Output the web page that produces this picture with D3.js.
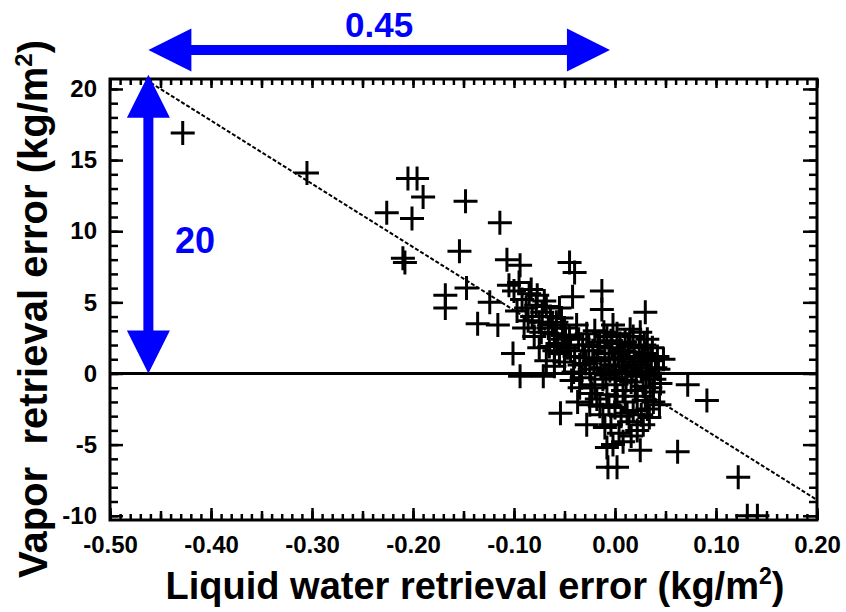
<!DOCTYPE html>
<html>
<head>
<meta charset="utf-8">
<script src="https://cdn.jsdelivr.net/npm/d3@7"></script>
<style>
  body { margin: 0; background: #fff; }
  svg { display: block; font-family: "Liberation Sans", Arial, sans-serif; }
</style>
</head>
<body>
<svg id="plot"></svg>
<script>
// axis ticks
const xTicks = [-0.5, -0.4, -0.3, -0.2, -0.1, 0, 0.1, 0.2];
const xTickLabels = ['-0.50', '-0.40', '-0.30', '-0.20', '-0.10', '0.00', '0.10', '0.20'];
const yTicks = [-10, -5, 0, 5, 10, 15, 20];
const yTickLabels = ['-10', '-5', '0', '5', '10', '15', '20'];

// retrieval errors, liquid water (x) and vapor (y), kg/m2
const liquidErr = [
  -0.428, -0.305, -0.205, -0.196, -0.190, -0.226, -0.201, -0.210, -0.208, -0.148,
  -0.114, -0.154, -0.168, -0.168, -0.147, -0.136, -0.124, -0.116, -0.107, -0.094,
  -0.045, -0.040, -0.042, -0.013, -0.013, 0.030, -0.101, -0.094, -0.071, -0.054,
  -0.037, -0.028, -0.023, -0.008, -0.007, 0.002, 0.025, 0.072, 0.091, 0.062,
  0.122, 0.131, 0.141,
  -0.105, -0.100, -0.095, -0.092, -0.088, -0.085, -0.082, -0.078, -0.075, -0.072,
  -0.070, -0.066, -0.064, -0.060, -0.058, -0.055, -0.052, -0.050, -0.047, -0.080,
  -0.090, -0.065,
  -0.083, -0.077, -0.068, -0.062, -0.057, -0.053, -0.049, -0.073, -0.086, -0.097,
  -0.045, -0.040, -0.038, -0.035, -0.032, -0.030, -0.028, -0.025, -0.022, -0.020,
  -0.018, -0.015, -0.012, -0.010, -0.008, -0.005, -0.003, 0.000, 0.000, 0.002,
  0.004, 0.006, 0.008, 0.010, 0.012, 0.014, 0.016, 0.018, 0.020, 0.022,
  0.024, 0.026, 0.028, 0.030, 0.032, 0.034, 0.036, 0.038, 0.040, -0.050,
  -0.055, -0.060, -0.043, -0.035, -0.002, 0.015, 0.025, -0.075, -0.068, -0.060,
  -0.044, -0.041, -0.036, -0.033, -0.029, -0.026, -0.024, -0.021, -0.017, -0.014,
  -0.011, -0.009, -0.006, -0.004, -0.001, 0.001, 0.003, 0.005, 0.007, 0.009,
  0.011, 0.013, 0.017, 0.019, 0.021, 0.023, 0.027, 0.029, 0.031, 0.033,
  0.035, 0.037, 0.039, 0.042, 0.043,
  -0.025, -0.018, -0.012, -0.008, -0.004, 0.000, 0.004, 0.006, 0.010, 0.014,
  0.018, 0.022, 0.026, 0.030, 0.034, -0.002, 0.008, 0.016, 0.045, 0.048,
  0.044, -0.020, -0.015, -0.006, 0.002, 0.012, 0.020, 0.028, 0.032, 0.038,
  -0.010
];
const vaporErr = [
  16.9, 14.1, 13.7, 13.7, 12.4, 11.3, 10.9, 8.1, 7.8, 12.1,
  10.6, 8.6, 5.5, 4.6, 6.0, 3.5, 5.0, 3.4, 8.0, 7.6,
  7.8, 7.1, 5.4, 5.8, 4.5, 4.3, 1.4, -0.2, -0.2, -2.8,
  -2.0, -3.6, -1.4, -5.2, -6.6, -6.6, -5.4, -0.8, -1.9, -5.5,
  -7.3, -10.0, -10.0,
  6.2, 5.8, 6.4, 5.2, 4.6, 5.6, 4.0, 4.8, 3.6, 4.3,
  5.1, 3.2, 4.0, 2.8, 3.6, 4.6, 2.4, 3.2, 1.8, 2.6,
  3.2, 1.9,
  5.9, 5.5, 4.7, 3.4, 2.1, 3.9, 2.7, 2.9, 3.7, 4.4,
  2.6, 1.2, 3.4, 0.6, 2.0, 1.1, 2.8, 0.3, 1.6, 3.0,
  0.9, 2.2, -0.4, 1.4, 2.6, 0.2, 1.8, -0.8, 1.0, 2.8,
  0.5, 1.6, -1.2, 2.2, 0.0, 1.2, -0.6, 2.6, 0.8, -1.6,
  1.8, 0.2, -0.9, 1.4, 2.4, -0.2, 0.9, -1.3, 0.4, 0.8,
  1.4, 0.5, -0.5, -1.0, 3.4, 3.1, 2.9, 1.8, 0.9, 1.6,
  1.6, 0.1, 2.4, -0.3, 0.7, 2.0, -0.8, 0.9, 1.9, 0.4,
  2.9, -0.1, 1.1, 2.3, 0.6, -0.3, 1.4, 2.1, 0.2, 1.0,
  -0.5, 1.9, 0.4, 1.5, -0.2, 0.6, 1.1, 2.0, 0.0, 1.0,
  -1.0, 1.8, -0.4, 1.2, 0.3,
  -2.2, -1.8, -2.9, -1.5, -3.6, -2.4, -4.2, -3.0, -2.0, -3.4,
  -2.6, -4.0, -2.9, -1.9, -3.1, -5.0, -4.8, -4.4, -0.7, 1.0,
  -2.2, -1.0, -2.3, -2.2, -1.6, -2.8, -1.2, -3.6, -2.5, -2.0,
  -3.8
];

// annotation: 20 kg/m2 vapor over 0.45 kg/m2 liquid
const spanLiquid = [-0.462, -0.005];
const spanVapor = [0, 21];
const slope = -20 / 0.45;

const width = 846;
const height = 612;
const plot = { left: 110, right: 817, top: 79, bottom: 520 };

const svg = d3.select('#plot')
  .attr('width', width)
  .attr('height', height);

const xScale = d3.scaleLinear().domain([-0.5, 0.2]).range([plot.left, plot.right]);
const yScale = d3.scaleLinear().domain([-10.3, 20.7]).range([plot.bottom, plot.top]);

svg.append('clipPath')
  .attr('id', 'clip')
  .append('rect')
  .attr('x', plot.left)
  .attr('y', plot.top)
  .attr('width', plot.right - plot.left)
  .attr('height', plot.bottom - plot.top);

const xMinor = d3.range(-50, 21).map(i => i / 100);
const xMid = d3.range(-10, 5).map(i => i / 20);
const yMinor = d3.range(-10, 21);

const styleTicks = g => {
  g.select('.domain').remove();
  g.selectAll('.tick line').attr('stroke', '#000').attr('stroke-width', 2.5);
};
const styleLabels = g => g.selectAll('text')
  .attr('fill', '#000')
  .style('font-size', '24px')
  .style('font-weight', 'bold');

// bottom axis
svg.append('g')
  .attr('transform', `translate(0, ${plot.bottom})`)
  .call(d3.axisBottom(xScale).tickValues(xMinor).tickSize(-6).tickFormat(''))
  .call(styleTicks);
svg.append('g')
  .attr('transform', `translate(0, ${plot.bottom})`)
  .call(d3.axisBottom(xScale).tickValues(xMid).tickSize(-9).tickFormat(''))
  .call(styleTicks);
svg.append('g')
  .attr('id', 'x-axis')
  .attr('transform', `translate(0, ${plot.bottom})`)
  .call(d3.axisBottom(xScale).tickValues(xTicks).tickSizeInner(-12).tickSizeOuter(0)
    .tickPadding(16).tickFormat((d, i) => xTickLabels[i]))
  .call(styleTicks)
  .call(styleLabels);

// top axis
svg.append('g')
  .attr('transform', `translate(0, ${plot.top})`)
  .call(d3.axisTop(xScale).tickValues(xMinor).tickSize(-6).tickFormat(''))
  .call(styleTicks);
svg.append('g')
  .attr('transform', `translate(0, ${plot.top})`)
  .call(d3.axisTop(xScale).tickValues(xMid).tickSize(-9).tickFormat(''))
  .call(styleTicks);

// left axis
svg.append('g')
  .attr('transform', `translate(${plot.left}, 0)`)
  .call(d3.axisLeft(yScale).tickValues(yMinor).tickSize(-8).tickFormat(''))
  .call(styleTicks);
svg.append('g')
  .attr('id', 'y-axis')
  .attr('transform', `translate(${plot.left}, 0)`)
  .call(d3.axisLeft(yScale).tickValues(yTicks).tickSizeInner(-13).tickSizeOuter(0)
    .tickPadding(13).tickFormat((d, i) => yTickLabels[i]))
  .call(styleTicks)
  .call(styleLabels);

// right axis
svg.append('g')
  .attr('transform', `translate(${plot.right}, 0)`)
  .call(d3.axisRight(yScale).tickValues(yMinor).tickSize(-8).tickFormat(''))
  .call(styleTicks);
svg.append('g')
  .attr('transform', `translate(${plot.right}, 0)`)
  .call(d3.axisRight(yScale).tickValues(yTicks).tickSize(-14).tickFormat(''))
  .call(styleTicks);

// frame
svg.append('rect')
  .attr('x', plot.left)
  .attr('y', plot.top)
  .attr('width', plot.right - plot.left)
  .attr('height', plot.bottom - plot.top)
  .attr('fill', 'none')
  .attr('stroke', '#000')
  .attr('stroke-width', 3);

// zero line
svg.append('line')
  .attr('x1', xScale(-0.5))
  .attr('x2', xScale(0.2))
  .attr('y1', yScale(0))
  .attr('y2', yScale(0))
  .attr('stroke', '#000')
  .attr('stroke-width', 3);

// slope line through the origin
svg.append('line')
  .attr('clip-path', 'url(#clip)')
  .attr('x1', xScale(-0.5))
  .attr('y1', yScale(slope * -0.5))
  .attr('x2', xScale(0.2))
  .attr('y2', yScale(slope * 0.2))
  .attr('stroke', '#000')
  .attr('stroke-width', 2)
  .attr('stroke-dasharray', '4,2');

// points
svg.append('g')
  .attr('clip-path', 'url(#clip)')
  .selectAll('path')
  .data(liquidErr.map((d, i) => [d, vaporErr[i]]))
  .enter()
  .append('path')
  .attr('transform', d => `translate(${xScale(d[0])}, ${yScale(d[1])})`)
  .attr('d', 'M-12,0H12M0,-12V12')
  .attr('stroke', '#000')
  .attr('stroke-width', 3)
  .attr('fill', 'none');

// double-headed arrow as a polygon
function arrow(x1, y1, x2, y2) {
  const shaft = 5, headL = 43, headW = 21.5;
  const len = Math.hypot(x2 - x1, y2 - y1);
  const pts = [
    [0, 0], [headL, -headW], [headL, -shaft], [len - headL, -shaft], [len - headL, -headW],
    [len, 0], [len - headL, headW], [len - headL, shaft], [headL, shaft], [headL, headW]
  ];
  const a = Math.atan2(y2 - y1, x2 - x1) * 180 / Math.PI;
  svg.append('path')
    .attr('transform', `translate(${x1}, ${y1}) rotate(${a})`)
    .attr('d', 'M' + pts.join('L') + 'Z')
    .attr('fill', '#0000ff');
}

const arrowY = 50;
arrow(xScale(spanLiquid[0]), arrowY, xScale(spanLiquid[1]), arrowY);
arrow(xScale(spanLiquid[0]), yScale(spanVapor[1]), xScale(spanLiquid[0]), yScale(spanVapor[0]));

svg.append('text')
  .attr('x', xScale((spanLiquid[0] + spanLiquid[1]) / 2))
  .attr('y', 37)
  .attr('text-anchor', 'middle')
  .attr('fill', '#0000ff')
  .style('font-size', '35px')
  .style('font-weight', 'bold')
  .text('0.45');

svg.append('text')
  .attr('x', 195)
  .attr('y', 253)
  .attr('text-anchor', 'middle')
  .attr('fill', '#0000ff')
  .style('font-size', '36px')
  .style('font-weight', 'bold')
  .text('20');

// axis titles
const xTitle = svg.append('text')
  .attr('x', 475)
  .attr('y', 599)
  .attr('text-anchor', 'middle')
  .style('font-size', '38px')
  .style('font-weight', 'bold');
xTitle.append('tspan').text('Liquid water retrieval error (kg/m');
xTitle.append('tspan').attr('dy', -15).style('font-size', '23px').text('2');
xTitle.append('tspan').attr('dy', 15).text(')');

const yTitle = svg.append('text')
  .attr('transform', 'translate(47, 309) rotate(-90)')
  .attr('text-anchor', 'middle')
  .style('font-size', '40px')
  .style('font-weight', 'bold')
  .style('white-space', 'pre');
yTitle.append('tspan').text('Vapor  retrieval error (kg/m');
yTitle.append('tspan').attr('dy', -15).style('font-size', '24px').text('2');
yTitle.append('tspan').attr('dy', 15).text(')');
</script>
</body>
</html>
